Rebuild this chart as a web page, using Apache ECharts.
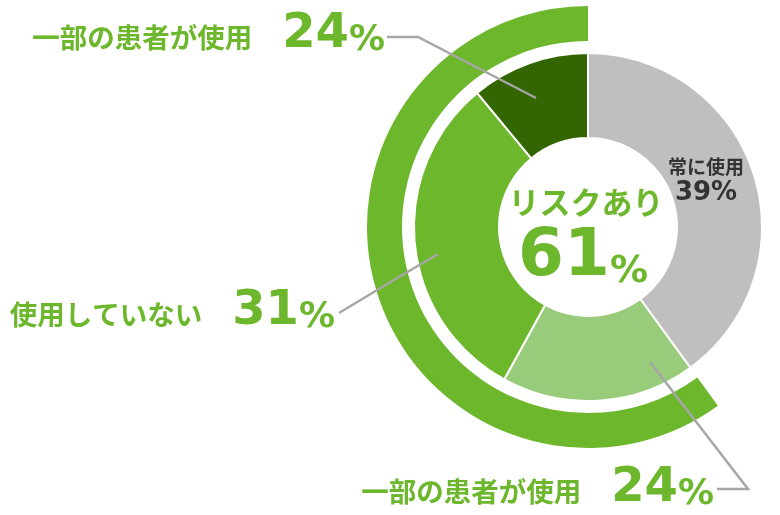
<!DOCTYPE html>
<html>
<head>
<meta charset="utf-8">
<script src="https://cdn.jsdelivr.net/npm/echarts@6/dist/echarts.min.js"></script>
<style>
html,body{margin:0;padding:0;background:#fff;}
#chart{width:780px;height:515px;}
</style>
</head>
<body>
<div id="chart"></div>
<script>
// ---- data ----
const categories = ['常に使用', '一部の患者が使用', '使用していない', '一部の患者が使用'];
const values = [40, 18, 31, 11];
const labelPercents = ['39%', '24%', '31%', '24%'];
const ringNames = ['常に使用', 'リスクあり'];
const ringValues = [40, 60];
const centerTitle = 'リスクあり';
const centerPercent = '61%';

// ---- styles ----
const GREEN = '#6DB72C';
const sliceColors = ['#BFBFBF', '#99CC7A', '#6DB72C', '#336600'];
const LINE = '#A6A6A6';
const CJK = '"Noto Sans CJK JP", sans-serif';
const NUM = '"DejaVu Sans", sans-serif';
const CX = 588, CY = 227;

const chart = echarts.init(document.getElementById('chart'), null, {renderer: 'canvas'});

const labelPos = {
  0: {x: 706, y: 180, align: 'center', verticalAlign: 'middle'},
  1: {x: 714, y: 488, align: 'right', verticalAlign: 'middle', labelLinePoints: [[650, 362], [748, 489], [717, 489]]},
  2: {x: 335, y: 311, align: 'right', verticalAlign: 'middle', labelLinePoints: [[438, 254], [388, 283.5], [339, 313]]},
  3: {x: 385, y: 34, align: 'right', verticalAlign: 'middle', labelLinePoints: [[536, 98], [418, 37], [387, 37]]}
};

const pieData = categories.map((name, i) => ({
  name: name,
  value: values[i],
  itemStyle: {color: sliceColors[i]}
}));

const labelData = categories.map((name, i) => ({
  name: name,
  value: values[i],
  labelLine: {show: i !== 0}
}));

const ringData = ringNames.map((name, i) => ({
  name: name,
  value: ringValues[i],
  itemStyle: {color: i === 0 ? 'rgba(0,0,0,0)' : GREEN}
}));

chart.setOption({
  animation: false,
  backgroundColor: '#fff',
  series: [
    {
      type: 'pie',
      silent: true,
      z: 1,
      center: [CX, CY],
      radius: [186, 221],
      startAngle: 90,
      clockwise: true,
      label: {show: false},
      labelLine: {show: false},
      data: ringData
    },
    {
      type: 'pie',
      silent: true,
      z: 2,
      center: [CX, CY],
      radius: [89, 174],
      startAngle: 90,
      clockwise: true,
      itemStyle: {borderColor: '#fff', borderWidth: 2},
      label: {show: false},
      labelLine: {show: false},
      data: pieData
    },
    {
      type: 'pie',
      silent: true,
      z: 5,
      center: [CX, CY],
      radius: [89, 174],
      startAngle: 90,
      clockwise: true,
      avoidLabelOverlap: false,
      itemStyle: {color: 'rgba(0,0,0,0)', borderWidth: 0},
      label: {
        show: true,
        position: 'outside',
        formatter: function (p) {
          const i = p.dataIndex;
          const pct = labelPercents[i];
          if (i === 0) return '{gn|' + p.name + '}\n{gp|' + pct + '}';
          return '{n|' + p.name + '}{g|}{p|' + pct.replace('%', '') + '}{s|%}';
        },
        rich: {
          gn: {fontFamily: CJK, fontWeight: 'bold', fontSize: 19, color: '#333', lineHeight: 26, align: 'center'},
          gp: {fontFamily: NUM, fontWeight: 'bold', fontSize: 26, color: '#333', lineHeight: 26, align: 'center'},
          n: {fontFamily: CJK, fontWeight: 'bold', fontSize: 27.5, color: GREEN, lineHeight: 42, verticalAlign: 'bottom', padding: [0, 0, 8, 0]},
          g: {width: 30, lineHeight: 50, verticalAlign: 'bottom'},
          p: {fontFamily: NUM, fontWeight: 'bold', fontSize: 48, color: GREEN, lineHeight: 50, verticalAlign: 'bottom'},
          s: {fontFamily: NUM, fontWeight: 'bold', fontSize: 36, color: GREEN, lineHeight: 40, verticalAlign: 'bottom'}
        }
      },
      labelLine: {show: true, smooth: false, lineStyle: {color: LINE, width: 2.5}},
      labelLayout: function (params) {
        return Object.assign({}, labelPos[params.dataIndex]);
      },
      data: labelData
    }
  ],
  graphic: [
    {
      type: 'text', x: 586, y: 202, z: 10,
      style: {text: centerTitle, font: 'bold 31px ' + CJK, fill: GREEN, align: 'center', verticalAlign: 'middle'}
    },
    {
      type: 'text', x: 583, y: 258, z: 10,
      style: {
        text: '{a|' + centerPercent.replace('%', '') + '}{b|%}',
        align: 'center', verticalAlign: 'middle',
        rich: {
          a: {fontFamily: NUM, fontWeight: 'bold', fontSize: 66, fill: GREEN, lineHeight: 66, verticalAlign: 'bottom'},
          b: {fontFamily: NUM, fontWeight: 'bold', fontSize: 38, fill: GREEN, lineHeight: 42, verticalAlign: 'bottom'}
        }
      }
    }
  ]
});
</script>
</body>
</html>
